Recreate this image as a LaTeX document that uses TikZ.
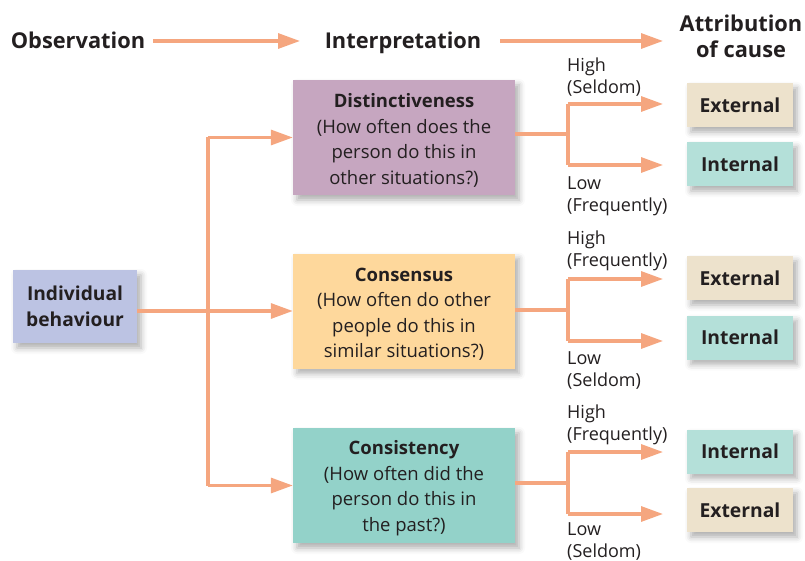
\documentclass[tikz,border=0pt]{standalone}
\usepackage{fontspec}
\setmainfont{Open Sans}
\usetikzlibrary{arrows.meta,shadows.blur}
\definecolor{arr}{HTML}{F5A67F}
\definecolor{txt}{HTML}{231F20}
\definecolor{cdist}{HTML}{C6A6C0}
\definecolor{ccons}{HTML}{FED89C}
\definecolor{ccst}{HTML}{93D2C9}
\definecolor{cib}{HTML}{BCC3E3}
\definecolor{cext}{HTML}{EDE2CC}
\definecolor{cint}{HTML}{B4E0D9}
\newcommand{\topstrut}{\rule{0pt}{19.5pt}}
\begin{document}
\begin{tikzpicture}[x=1pt,y=-1pt,
  every node/.style={text=txt},
  shad/.style={blur shadow={shadow xshift=4pt,shadow yshift=-5pt,shadow blur radius=6pt,shadow opacity=32}},
  bigbox/.style={shad,minimum width=222pt,minimum height=115pt,align=center,inner sep=0pt,font=\fontsize{18.5}{25.5}\selectfont},
  smallbox/.style={shad,minimum width=106pt,minimum height=44pt,inner sep=0pt,font=\fontsize{19.3}{22}\selectfont\bfseries},
  head/.style={font=\fontsize{21.8}{26}\selectfont\bfseries,align=center,inner sep=0pt},
  lab/.style={font=\fontsize{18}{22}\selectfont,align=left,anchor=west,inner sep=0pt},
  conn/.style={draw=arr,line width=3.2pt},
  arrowc/.style={conn,-{Triangle[length=22pt,width=15pt]}}
]
\useasboundingbox (0,0) rectangle (805,561);

% headers
\node[head,anchor=base] (hobs) at (78,49) {Observation};
\node[head,anchor=base] (hint) at (403,49) {Interpretation};
\node[head] (hatt) at (741,36) {Attribution\\of cause};
\coordinate (ha) at (153,41);
\coordinate (hb) at (300,41);
\coordinate (hc) at (500,41);
\coordinate (hd) at (663,41);
\draw[arrowc] (ha) -- (hb);
\draw[arrowc] (hc) -- (hd);

% main boxes
\node[bigbox,fill=cib,minimum width=124pt,minimum height=73pt,font=\fontsize{19.2}{26}\selectfont\bfseries] (ib) at (75,306.5) {Individual\\behaviour};
\node[bigbox,fill=cdist] (dist) at (404,137.5) {\topstrut\textbf{Distinctiveness}\\(How often does the\\person do this in\\other situations?)};
\node[bigbox,fill=ccons] (cons) at (404,311) {\topstrut\textbf{Consensus}\\(How often do other\\people do this in\\similar situations?)};
\node[bigbox,fill=ccst] (cst) at (404,485.5) {\topstrut\textbf{Consistency}\\(How often did the\\person do this in\\the past?)};

% left connectors
\coordinate (jl) at (208,311);
\draw[conn] (jl |- dist.west) -- (jl |- cst.west);
\draw[arrowc] (ib.east |- cons.west) -- (cons.west);
\draw[arrowc] (jl |- dist.west) -- (dist.west);
\draw[arrowc] (jl |- cst.west) -- (cst.west);

% result boxes
\node[smallbox,fill=cext] (d1) at (740,105) {External};
\node[smallbox,fill=cint] (d2) at (740,164) {Internal};
\node[smallbox,fill=cext] (c1) at (740,278) {External};
\node[smallbox,fill=cint] (c2) at (740,337.5) {Internal};
\node[smallbox,fill=cint] (s1) at (740,451.5) {Internal};
\node[smallbox,fill=cext] (s2) at (740,510) {External};

% right connectors: distinctiveness
\coordinate (dj) at (568,134);
\coordinate (dh) at (568,104);
\coordinate (dl) at (568,165);
\coordinate (dha) at (663,104);
\coordinate (dla) at (663,165);
\draw[conn] (dist.east |- dj) -- (dj);
\draw[conn] (dh) -- (dl);
\draw[arrowc] (dh) -- (dha);
\draw[arrowc] (dl) -- (dla);
\node[lab] (dlh) at (567,77) {High\\(Seldom)};
\node[lab] (dll) at (567,196) {Low\\(Frequently)};

% consensus
\coordinate (cj) at (568,310);
\coordinate (ch) at (568,279);
\coordinate (cl) at (568,341);
\coordinate (cha) at (663,279);
\coordinate (cla) at (663,341);
\draw[conn] (cons.east |- cj) -- (cj);
\draw[conn] (ch) -- (cl);
\draw[arrowc] (ch) -- (cha);
\draw[arrowc] (cl) -- (cla);
\node[lab] (clh) at (567,251) {High\\(Frequently)};
\node[lab] (cll) at (567,370) {Low\\(Seldom)};

% consistency
\coordinate (sj) at (568,483);
\coordinate (sh) at (568,452);
\coordinate (sl) at (568,514);
\coordinate (sha) at (663,452);
\coordinate (sla) at (663,514);
\draw[conn] (cst.east |- sj) -- (sj);
\draw[conn] (sh) -- (sl);
\draw[arrowc] (sh) -- (sha);
\draw[arrowc] (sl) -- (sla);
\node[lab] (slh) at (567,425) {High\\(Frequently)};
\node[lab] (sll) at (567,541) {Low\\(Seldom)};
\end{tikzpicture}
\end{document}
